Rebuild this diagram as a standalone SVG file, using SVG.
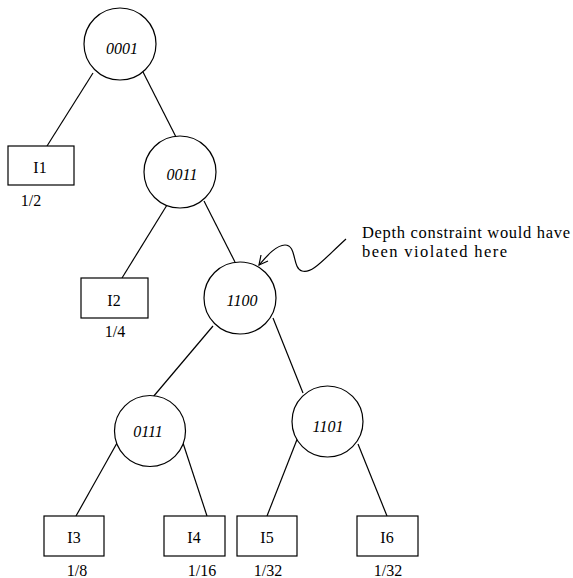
<svg xmlns="http://www.w3.org/2000/svg" width="573" height="578" viewBox="0 0 573 578">
<style>
.n{fill:#fff;stroke:#000;stroke-width:1.2}
.l{fill:none;stroke:#000;stroke-width:1.2}
.t{font-family:"Liberation Serif",serif;font-size:16px;fill:#000;text-anchor:middle}
.i{font-style:italic}
.a{font-family:"Liberation Serif",serif;font-size:16.5px;fill:#000}
</style>
<rect width="573" height="578" fill="#fff"/>
<g id="connectors">
<line class="l" x1="93" y1="73" x2="47" y2="146"/>
<line class="l" x1="143" y1="72" x2="176" y2="137"/>
<line class="l" x1="167" y1="205" x2="122" y2="278"/>
<line class="l" x1="204" y1="201" x2="235" y2="262"/>
<line class="l" x1="213" y1="326" x2="153" y2="397"/>
<line class="l" x1="273" y1="318" x2="303" y2="393"/>
<line class="l" x1="117" y1="443" x2="76" y2="516"/>
<line class="l" x1="183" y1="443" x2="207" y2="516"/>
<line class="l" x1="298" y1="437" x2="267" y2="516"/>
<line class="l" x1="358" y1="444" x2="387" y2="516"/>
<path id="annot-arrow" class="l" d="M346,239 C322,261 312,274 302,271 C292,268 297,245 285,245 C276,245 266,257 259,265"/>
<path class="l" d="M261,255 L259,265 L268,261"/>
</g>
<g id="n0001"><circle class="n" cx="120" cy="44" r="36"/><text class="t i" x="122" y="54">0001</text></g>
<g id="n0011"><circle class="n" cx="180" cy="172" r="36"/><text class="t i" x="182" y="180">0011</text></g>
<g id="n1100"><circle class="n" cx="240" cy="298" r="36"/><text class="t i" x="242" y="306">1100</text></g>
<g id="n0111"><circle class="n" cx="150" cy="431" r="35.5"/><text class="t i" x="148" y="437">0111</text></g>
<g id="n1101"><circle class="n" cx="327.5" cy="421.5" r="35.5"/><text class="t i" x="328" y="432">1101</text></g>
<g id="I1"><rect class="n" x="8" y="146" width="66" height="39"/><text class="t" x="40" y="173">I1</text><text class="t" x="31" y="206">1/2</text></g>
<g id="I2"><rect class="n" x="81" y="278" width="67" height="40"/><text class="t" x="114" y="306">I2</text><text class="t" x="115" y="337">1/4</text></g>
<g id="I3"><rect class="n" x="44" y="516" width="60" height="40"/><text class="t" x="74" y="543">I3</text><text class="t" x="77" y="576">1/8</text></g>
<g id="I4"><rect class="n" x="164" y="516" width="61" height="40"/><text class="t" x="194" y="543">I4</text><text class="t" x="202" y="576">1/16</text></g>
<g id="I5"><rect class="n" x="237" y="516" width="60" height="40"/><text class="t" x="267" y="543">I5</text><text class="t" x="268" y="576">1/32</text></g>
<g id="I6"><rect class="n" x="357" y="516" width="61" height="40"/><text class="t" x="387" y="543">I6</text><text class="t" x="388" y="576">1/32</text></g>
<g id="annotation"><text class="a" x="362" y="238" textLength="208" lengthAdjust="spacing">Depth constraint would have</text><text class="a" x="362" y="257" textLength="145" lengthAdjust="spacing">been violated here</text></g>
</svg>
